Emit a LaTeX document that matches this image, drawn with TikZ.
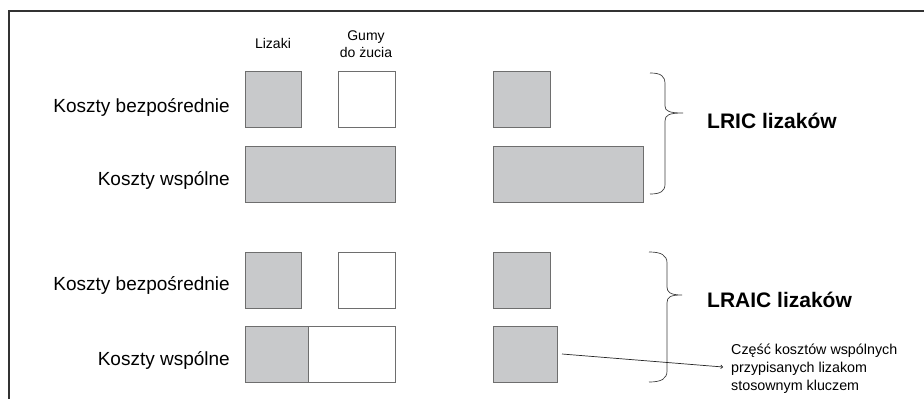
\documentclass[tikz,border=0pt]{standalone}
\usepackage{fontspec}
\setmainfont{Liberation Sans}
\usetikzlibrary{arrows.meta}
\definecolor{boxgray}{RGB}{200,201,203}
\definecolor{boxline}{RGB}{110,110,110}
\definecolor{framec}{RGB}{50,50,50}
\begin{document}
\begin{tikzpicture}[x=1pt,y=-1pt,
  gbox/.style={draw=boxline,line width=0.8pt,fill=boxgray,inner sep=0,outer sep=0},
  wbox/.style={draw=boxline,line width=0.8pt,fill=white,inner sep=0,outer sep=0},
  rowlabel/.style={anchor=base east,inner sep=0,font=\fontsize{19}{22}\selectfont},
  colhead/.style={anchor=base,inner sep=0,align=center,font=\fontsize{14}{17}\selectfont},
  bigtitle/.style={anchor=base west,inner sep=0,font=\bfseries\fontsize{21}{24}\selectfont},
  note/.style={anchor=base west,inner sep=0,align=left,font=\fontsize{14.3}{17.8}\selectfont},
  bracec/.style={draw=black!75,line width=0.7pt}]
\useasboundingbox (0,0) rectangle (924,399);
\fill[white] (0,0) rectangle (924,399);
% frame
\draw[framec,line width=2pt] (9.3,399) -- (9.3,11) -- (924,11);
% column headings
\node[colhead] (hl) at (273,48) {Lizaki};
\node[colhead] (hg) at (366,57) {Gumy\\do żucia};
% row labels
\node[rowlabel] (l1) at (230,112) {Koszty bezpośrednie};
\node[rowlabel] (l2) at (230,185) {Koszty wspólne};
\node[rowlabel] (l3) at (230,290) {Koszty bezpośrednie};
\node[rowlabel] (l4) at (230,365) {Koszty wspólne};
% top block
\node[gbox,minimum width=56,minimum height=56] (a1) at (273,99) {};
\node[wbox,minimum width=57,minimum height=56] (a2) at (366.5,99) {};
\node[gbox,minimum width=150,minimum height=56] (a3) at (320,174) {};
\node[gbox,minimum width=57,minimum height=56] (a4) at (521.5,99) {};
\node[gbox,minimum width=150,minimum height=56] (a5) at (568,174) {};
% bottom block
\node[gbox,minimum width=56,minimum height=56] (b1) at (273,280) {};
\node[wbox,minimum width=57,minimum height=56] (b2) at (366.5,280) {};
\node[gbox,minimum width=63,minimum height=56] (b3) at (276.5,354) {};
\node[wbox,minimum width=87,minimum height=56] (b4) at (351.5,354) {};
\node[gbox,minimum width=57,minimum height=56] (b5) at (521.5,280) {};
\node[gbox,minimum width=64,minimum height=56] (b6) at (525,354) {};
% braces
\draw[bracec] (650,73) .. controls (661,73) and (665,76) .. (665,84) -- (665,106)
  .. controls (665,111) and (669,113) .. (683,113)
  .. controls (669,113) and (665,115) .. (665,121) -- (665,184)
  .. controls (665,191) and (661,194) .. (650,194);
\draw[bracec] (649,252) .. controls (661,252) and (667,255) .. (667,263) -- (667,287)
  .. controls (667,292) and (670,295) .. (682,295)
  .. controls (670,295) and (667,297) .. (667,303) -- (667,371)
  .. controls (667,379) and (661,382) .. (649,382);
% titles
\node[bigtitle] (t1) at (707,128) {LRIC lizaków};
\node[bigtitle] (t2) at (707,307) {LRAIC lizaków};
% note
\node[note] (nt) at (731,390.5) {Część kosztów wspólnych\\przypisanych lizakom\\stosownym kluczem};
\coordinate (tip) at (723,367);
\draw[black!85,line width=0.7pt,-{To[length=2.5pt,width=4pt]}] ([xshift=5pt]b6.east) -- (tip);
\end{tikzpicture}
\end{document}
